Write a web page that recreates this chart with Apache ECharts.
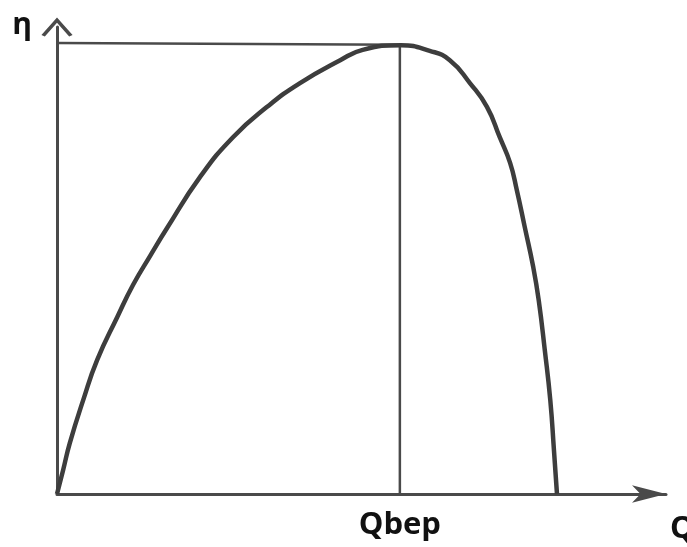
<!DOCTYPE html>
<html>
<head>
<meta charset="utf-8">
<script src="https://cdn.jsdelivr.net/npm/echarts@6/dist/echarts.min.js"></script>
<style>
html,body{margin:0;padding:0;background:#fff;}
#chart{width:687px;height:547px;}
</style>
</head>
<body>
<div id="chart"></div>
<script>
// Efficiency curve (Q, eta), axis units 0..100
var curveQ   = [0, 1.0, 2.1, 4.3, 6.6, 9.9, 12.5, 15.3, 18.1, 23.5, 28.9, 34.5, 39.9, 46.5, 50.2, 56.5, 61.2, 64.5, 67.8, 70.6, 72.7, 74.4, 75.5, 76.8, 78.2, 79.1, 80.1, 81.0, 81.6, 82.1];
var curveEta = [0, 5.1, 10.9, 20.1, 28.7, 37.9, 44.8, 51.0, 57.0, 67.9, 76.4, 82.9, 88.0, 92.9, 95.1, 96.1, 94.9, 92.9, 88.0, 82.9, 76.4, 70.9, 65.1, 57.2, 48.6, 41.5, 30.8, 20.1, 9.4, 0];
var qBep = 56.3;
var etaMax = 96.2;
var bepLabel = 'Qbep';
var xName = 'Q';
var yName = 'η';

var curveData = curveQ.map(function (q, i) { return [q, curveEta[i]]; });
var chart = echarts.init(document.getElementById('chart'), null, {renderer: 'canvas'});
var lineColor = '#4a4a4a';
chart.setOption({
  animation: false,
  backgroundColor: '#ffffff',
  grid: {left: 57, right: 21, top: 27, bottom: 53, containLabel: false, outerBoundsMode: 'none'},
  xAxis: {
    type: 'value', min: 0, max: 100,
    name: xName, nameLocation: 'end', nameGap: 4,
    nameTextStyle: {fontFamily: 'Open Sans', fontWeight: 'bold', fontSize: 31, color: '#111', verticalAlign: 'top', padding: [20, 0, 0, 0]},
    axisLine: {show: true, symbol: ['none', 'arrow'], symbolSize: [13, 34], lineStyle: {color: lineColor, width: 3}},
    axisTick: {show: false},
    splitLine: {show: false},
    axisLabel: {
      show: true, customValues: [qBep], margin: 16,
      formatter: function () { return bepLabel; },
      fontFamily: 'Open Sans', fontWeight: 'bold', fontSize: 31, color: '#111'
    }
  },
  yAxis: {
    type: 'value', min: 0, max: 100,
    name: yName, nameLocation: 'end', nameGap: -13,
    nameTextStyle: {fontFamily: 'Open Sans', fontWeight: 'bold', fontSize: 30, color: '#111', padding: [0, 70, 0, 0]},
    axisLine: {show: true, symbol: ['none', 'path://M0,18 L16,0 L32,18 L28.5,19.5 L16,5.5 L3.5,19.5 Z'], symbolSize: [32, 19], lineStyle: {color: lineColor, width: 3}},
    axisTick: {show: false},
    splitLine: {show: false},
    axisLabel: {show: false}
  },
  series: [
    {
      type: 'line', data: [[0, etaMax + 0.4], [qBep, etaMax]], symbol: 'none',
      lineStyle: {color: lineColor, width: 2.5}, z: 2
    },
    {
      type: 'line', data: [[qBep, 0], [qBep, etaMax]], symbol: 'none',
      lineStyle: {color: lineColor, width: 2.5}, z: 2
    },
    {
      type: 'line', data: curveData, symbol: 'none', smooth: 0.5,
      lineStyle: {color: '#3d3d3d', width: 4.5}, z: 3
    }
  ]
});
</script>
</body>
</html>
